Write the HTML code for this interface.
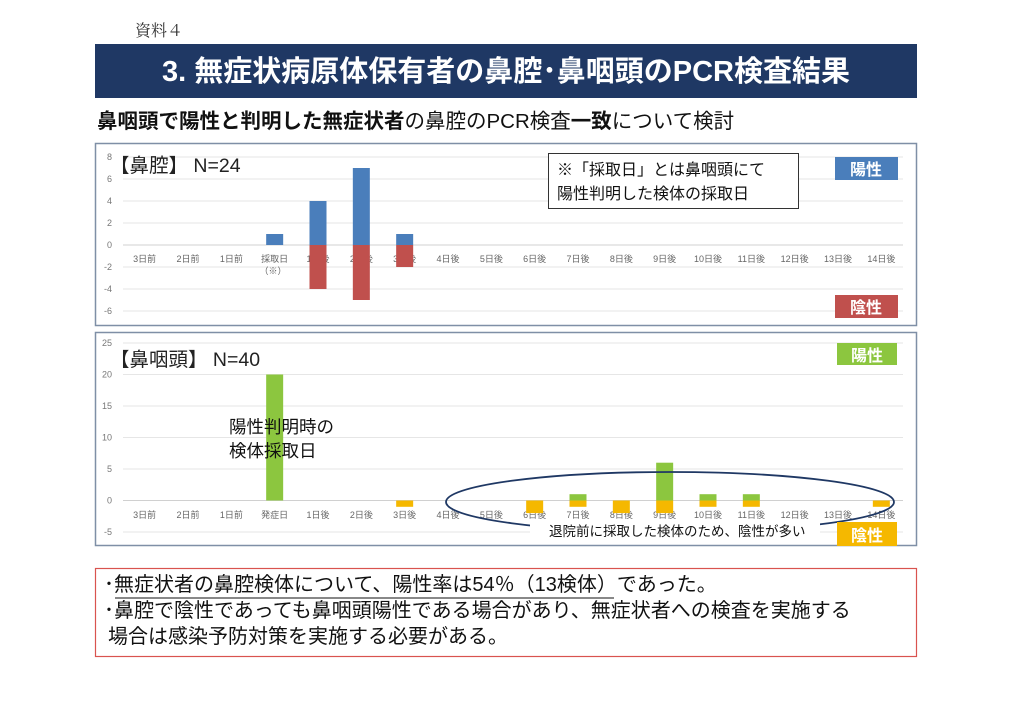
<!DOCTYPE html>
<html><head><meta charset="utf-8">
<style>
html,body{margin:0;padding:0;background:#fff;}
svg{display:block;font-family:"Liberation Sans","Noto Sans CJK JP",sans-serif;}
</style></head>
<body>
<svg id="pg" width="1024" height="724" viewBox="0 0 1024 724" xmlns="http://www.w3.org/2000/svg">
<text x="135" y="36" font-size="16" fill="#333" font-family="'Liberation Serif','Noto Serif CJK SC',serif">資料４</text>
<rect x="95" y="44" width="822" height="54" fill="#1f3864"/>
<text x="506" y="81" font-size="29" font-weight="bold" fill="#fff" text-anchor="middle">3. 無症状病原体保有者の鼻腔･鼻咽頭のPCR検査結果</text>
<text x="97" y="128" font-size="20.5" fill="#111"><tspan font-weight="bold">鼻咽頭で陽性と判明した無症状者</tspan>の鼻腔のPCR検査<tspan font-weight="bold">一致</tspan>について検討</text>

<rect x="95.5" y="143.5" width="821" height="182" fill="#fff" stroke="#7f8fa6" stroke-width="1.5"/>
<g id="c1"></g>
<text x="110" y="172" font-size="19.5" fill="#222">【鼻腔】 N=24</text>
<rect x="548.5" y="153.5" width="250" height="55" fill="#fff" stroke="#333"/>
<text x="557" y="175" font-size="16" fill="#111">※「採取日」とは鼻咽頭にて</text>
<text x="557" y="199" font-size="16" fill="#111">陽性判明した検体の採取日</text>
<rect x="835" y="157" width="63" height="23" fill="#4a7ebb"/>
<text x="866" y="175" font-size="16" font-weight="bold" fill="#fff" text-anchor="middle">陽性</text>
<rect x="835" y="295" width="63" height="23" fill="#c0504d"/>
<text x="866" y="313" font-size="16" font-weight="bold" fill="#fff" text-anchor="middle">陰性</text>

<rect x="95.5" y="332.5" width="821" height="213" fill="#fff" stroke="#7f8fa6" stroke-width="1.5"/>
<g id="c2"></g>
<text x="110" y="366" font-size="19.5" fill="#222">【鼻咽頭】 N=40</text>
<text x="229" y="433" font-size="17.5" fill="#111">陽性判明時の</text>
<text x="229" y="457" font-size="17.5" fill="#111">検体採取日</text>
<ellipse cx="670" cy="502" rx="224" ry="30" fill="none" stroke="#1f3864" stroke-width="1.8"/>
<rect x="530" y="520" width="290" height="20" fill="#fff"/>
<text x="549" y="536" font-size="13.5" fill="#111">退院前に採取した検体のため、陰性が多い</text>
<rect x="837" y="343" width="60" height="22" fill="#8cc63f"/>
<text x="867" y="361" font-size="16" font-weight="bold" fill="#fff" text-anchor="middle">陽性</text>
<rect x="837" y="522" width="60" height="24" fill="#f5b800"/>
<text x="867" y="541" font-size="16" font-weight="bold" fill="#fff" text-anchor="middle">陰性</text>

<rect x="95.5" y="568.5" width="821" height="88" fill="#fff" stroke="#d9534f" stroke-width="1.2"/>
<text x="104" y="591" font-size="20" fill="#111">･無症状者の鼻腔検体について、陽性率は54％（13検体）であった。</text>
<line x1="115" y1="598" x2="614" y2="598" stroke="#111" stroke-width="1"/>
<text x="104" y="617" font-size="20" fill="#111">･鼻腔で陰性であっても鼻咽頭陽性である場合があり、無症状者への検査を実施する</text>
<text x="108" y="643" font-size="20" fill="#111">場合は感染予防対策を実施する必要がある。</text>
</svg>
<script>
const cats1 = ["3日前","2日前","1日前","採取日","1日後","2日後","3日後","4日後","5日後","6日後","7日後","8日後","9日後","10日後","11日後","12日後","13日後","14日後"];
const cats2 = ["3日前","2日前","1日前","発症日","1日後","2日後","3日後","4日後","5日後","6日後","7日後","8日後","9日後","10日後","11日後","12日後","13日後","14日後"];
const nasalPos = [0,0,0,1,4,7,1,0,0,0,0,0,0,0,0,0,0,0];
const nasalNeg = [0,0,0,0,-4,-5,-2,0,0,0,0,0,0,0,0,0,0,0];
const npPos = [0,0,0,20,0,0,0,0,0,0,1,0,6,1,1,0,0,0];
const npNeg = [0,0,0,0,0,0,-1,0,0,-2,-1,-2,-2,-1,-1,0,0,-1];
const ticks1 = [8,6,4,2,0,-2,-4,-6];
const ticks2 = [25,20,15,10,5,0,-5];
const NS="http://www.w3.org/2000/svg";
function mk(tag,attrs,parent){const e=document.createElementNS(NS,tag);for(const k in attrs)e.setAttribute(k,attrs[k]);parent.appendChild(e);return e;}
function draw(g,cats,pos,neg,ticks,yTop,vTop,vBot,cPos,cNeg,yBottom,labelY){
  const x0=123,x1=903,bw=(x1-x0)/cats.length;
  const scale=(v)=>yTop+(vTop-v)*(yBottom-yTop)/(vTop-vBot);
  const xc=i=>x0+bw*(i+0.5);
  ticks.forEach(t=>{
    const l=mk('line',{x1:x0,x2:x1,y1:scale(t),y2:scale(t),stroke:t===0?'#d0d0d0':'#e6e6e6','stroke-width':1},g);
    
    
    const tx=mk('text',{x:112,y:scale(t)+3,'font-size':9,fill:'#777','text-anchor':'end'},g);
    tx.textContent=t;
    
    
  });
  cats.forEach((c,i)=>{
    const t=mk('text',{x:xc(i),y:labelY,'font-size':9,fill:'#666','text-anchor':'middle'},g);
    t.textContent=c;
    
    
  });
  cats.forEach((c,i)=>{
    if(pos[i]){const r=mk('rect',{x:xc(i)-8.5,y:scale(pos[i]),width:17,height:scale(0)-scale(pos[i]),fill:cPos},g);
      
      }
    if(neg[i]){const r=mk('rect',{x:xc(i)-8.5,y:scale(0),width:17,height:scale(neg[i])-scale(0),fill:cNeg},g);
      
      }
  });
}
draw(document.getElementById('c1'),cats1,nasalPos,nasalNeg,ticks1,157,8,-6,'#4a7ebb','#c0504d',311,262);
const s=document.createElementNS(NS,'text');
s.setAttribute('x',273);s.setAttribute('y',274);s.setAttribute('font-size',9);s.setAttribute('fill','#666');s.setAttribute('text-anchor','middle');
s.textContent='（※）';


document.getElementById('c1').appendChild(s);
draw(document.getElementById('c2'),cats2,npPos,npNeg,ticks2,343,25,-5,'#8cc63f','#f5b800',532,518);
</script>
</body></html>
